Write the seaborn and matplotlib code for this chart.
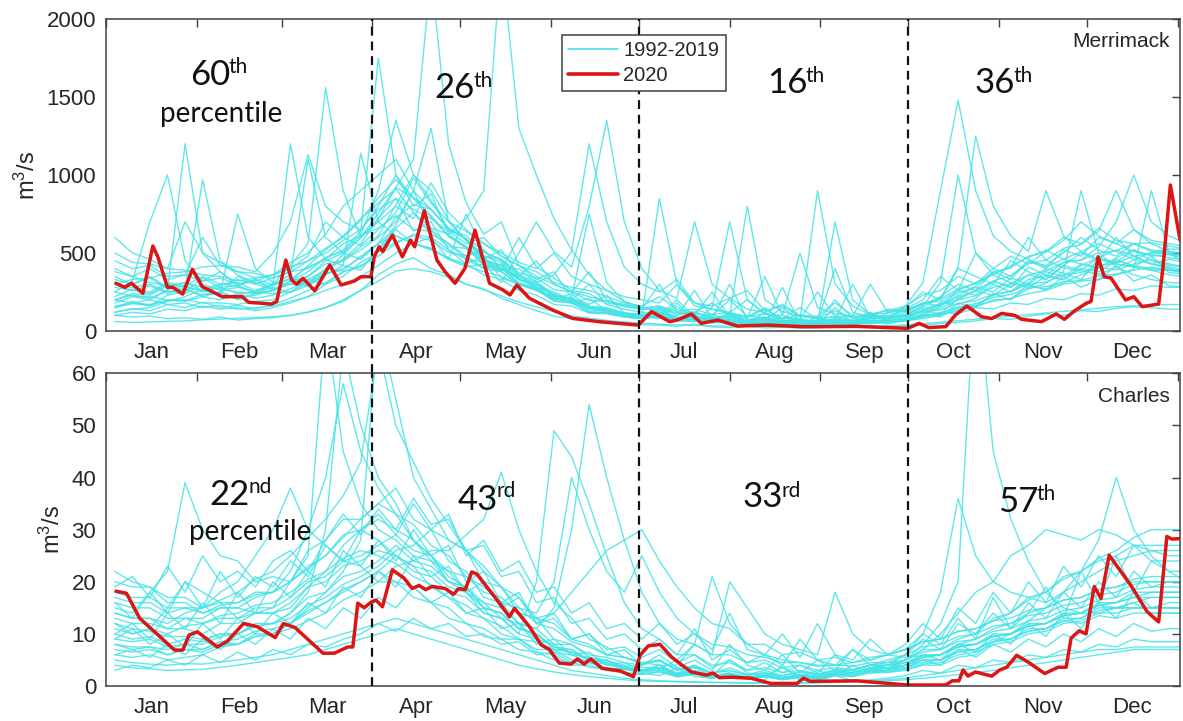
import numpy as np
import pandas as pd
import matplotlib
matplotlib.use("Agg")
import matplotlib.pyplot as plt
import seaborn as sns
from matplotlib.lines import Line2D

# ---------------- data ----------------
month_starts = [0, 31, 60, 91, 121, 152, 182, 213, 244, 274, 305, 335, 366]
month_mids = [15.5, 45.5, 75.5, 106, 136.5, 167, 197.5, 228.5, 259, 289.5, 320, 350.5]
month_labels = ["Jan", "Feb", "Mar", "Apr", "May", "Jun",
                "Jul", "Aug", "Sep", "Oct", "Nov", "Dec"]
season_bounds = [91, 182, 274]

# day-of-year sample grid for the 1992-2019 traces
cyan_days = list(range(3, 370, 6))

merrimack_hist = [
    [250,320,700,1000,450,320,380,290,330,300,420,560,1560,900,600,
     720,850,640,700,520,430,480,340,300,260,200,240,150,120,100,
     80,140,70,60,90,50,45,120,60,40,38,55,35,60,45,
     70,110,90,180,150,240,200,300,260,350,280,330,420,320,360,290,280],
    [180,220,200,260,1200,500,380,300,330,260,320,380,470,520,640,
     1750,1000,800,880,620,540,460,520,360,280,240,180,210,130,110,
     95,80,160,70,60,110,55,45,70,40,90,42,45,120,60,
     80,130,110,210,260,320,280,410,360,330,420,470,520,480,430,400,380],
    [100,90,95,80,85,75,90,70,80,85,100,120,150,190,260,
     360,430,470,400,360,300,270,210,170,130,95,80,65,55,45,
     40,38,30,45,26,22,30,20,24,18,20,28,22,30,28,
     34,38,48,55,65,80,75,95,110,100,130,125,145,155,150,140,140],
    [400,350,310,290,260,970,450,360,310,290,1200,600,460,420,390,
     520,680,900,1300,700,580,460,400,330,280,210,190,150,130,110,
     95,850,300,180,140,110,90,150,70,60,55,80,48,55,60,
     75,100,160,260,310,360,420,470,520,460,430,410,390,430,460,430,410],
    [200,240,230,290,310,280,270,250,240,260,320,420,520,610,720,
     820,910,760,660,620,720,900,2400,1300,1000,720,520,360,260,190,
     150,120,95,260,80,65,60,50,46,44,42,45,48,52,58,
     65,80,100,130,160,190,210,240,260,300,320,330,360,390,410,390,370],
    [300,260,290,240,270,220,250,200,240,280,250,330,390,460,560,
     720,920,1100,2300,1200,820,620,700,420,330,380,210,170,230,115,
     100,150,80,70,110,58,52,90,47,45,70,47,52,100,68,
     85,105,180,170,210,300,250,310,400,370,330,460,430,410,480,375,365],
    [150,190,160,230,250,340,280,290,240,260,300,290,370,390,480,
     560,660,760,620,560,460,440,390,400,310,360,510,1200,700,410,
     300,250,330,180,160,210,140,120,170,100,95,180,100,110,130,
     160,230,260,350,300,400,480,430,510,600,560,660,580,560,510,490,470],
    [350,300,340,270,290,250,280,240,250,300,360,1100,600,500,460,
     560,610,560,600,460,410,430,310,500,700,510,410,800,1350,700,
     400,260,210,700,300,210,260,130,160,95,85,130,85,95,140,
     125,180,190,260,230,320,280,360,330,420,390,470,440,520,480,490,470],
    [120,145,130,170,150,185,150,165,140,170,210,260,310,380,410,
     510,650,560,530,460,430,360,330,260,230,170,160,115,110,90,
     80,95,68,62,150,700,200,110,85,75,900,300,160,105,85,
     105,160,310,1000,500,360,310,290,270,310,360,410,460,410,390,360,350],
    [220,270,250,310,290,350,300,310,260,300,330,410,460,560,610,
     660,740,650,640,540,530,450,400,310,270,195,180,125,120,90,
     80,90,62,75,52,60,45,55,41,50,38,45,43,55,75,
     160,310,900,1480,900,610,510,460,410,460,510,560,510,460,430,410,390],
    [450,400,420,350,360,320,340,300,320,360,440,500,620,800,900,
     1000,1100,900,780,650,590,480,460,350,310,220,210,150,140,100,
     95,110,75,90,65,75,54,70,48,60,45,65,54,80,85,
     105,155,210,410,1250,800,610,510,900,610,510,460,430,410,390,390,390],
    [300,280,300,250,270,230,250,210,230,260,320,350,430,450,540,
     610,810,1000,900,710,580,450,420,300,270,190,180,120,115,90,
     80,95,64,80,54,70,48,60,43,55,40,52,43,60,54,
     64,90,105,150,165,230,255,330,355,440,455,540,700,1000,700,610,560],
    [200,180,200,170,180,150,165,140,150,160,190,220,300,350,440,
     505,570,610,580,505,480,405,380,305,280,205,190,135,130,98,
     88,100,72,85,62,75,54,66,50,60,47,58,50,66,60,
     72,95,105,140,155,200,205,270,305,380,900,500,410,360,330,310,310],
    [500,440,430,400,700,500,440,380,370,340,380,400,470,510,620,
     900,1350,1000,840,650,590,480,440,340,300,230,210,160,150,115,
     105,120,85,100,74,90,64,80,58,75,53,70,58,80,74,
     94,135,165,220,255,320,355,430,455,530,555,640,900,650,560,510,490],
    [150,175,165,195,195,235,245,750,400,310,300,300,370,400,470,
     560,730,810,780,660,590,460,420,330,300,220,200,145,135,105,
     95,110,77,95,64,80,56,70,51,65,48,62,53,70,65,
     78,100,115,155,175,215,235,275,285,315,325,355,365,395,900,500,430],
    [60,55,58,62,65,72,76,82,86,92,100,122,150,200,260,
     320,385,400,380,345,300,265,225,185,155,125,98,82,68,58,
     50,44,40,36,33,31,29,28,27,26,26,27,29,31,34,
     39,46,56,66,76,86,96,106,116,126,136,146,156,161,166,170,170],
    [300,330,340,370,380,410,420,410,380,500,700,1130,800,700,650,
     800,1000,850,740,610,540,430,390,600,410,340,260,240,175,170,
     135,150,105,120,85,100,73,90,63,80,57,75,63,90,82,
     105,145,175,245,285,380,405,480,505,580,700,610,560,510,490,470,460],
    [250,225,220,200,200,180,180,170,190,200,250,290,360,420,1140,
     700,610,560,530,460,750,510,450,360,320,230,210,750,310,190,
     145,160,105,120,85,100,800,200,125,95,78,90,63,85,78,
     95,125,145,200,225,280,305,360,385,440,455,500,515,560,565,545,525],
    [600,500,460,400,390,360,350,320,340,360,410,450,530,600,710,
     855,970,855,780,655,610,505,460,375,340,265,250,195,190,155,
     145,160,125,140,105,120,93,110,83,100,78,95,88,110,115,
     135,175,205,270,305,370,405,600,455,405,385,365,405,455,505,525,525],
    [120,140,150,190,220,270,300,290,250,240,250,310,380,490,600,
     755,920,855,730,605,530,425,380,295,270,205,195,150,145,115,
     105,120,86,100,72,90,62,80,58,75,54,700,200,105,85,
     95,120,135,175,195,235,255,300,315,360,375,420,435,480,495,505,505],
    [200,230,210,260,240,300,260,280,250,290,340,310,400,450,520,
     600,700,900,650,560,480,520,400,350,450,300,250,380,200,160,
     140,300,120,100,250,90,80,350,100,70,60,200,80,60,120,
     150,250,200,400,350,300,450,380,330,420,500,450,600,480,430,460,440],
    [160,180,170,200,190,220,200,240,210,230,270,330,300,380,420,
     480,560,620,600,520,460,400,430,330,290,250,200,300,170,140,
     120,100,200,90,80,300,75,70,150,65,60,400,120,90,100,
     130,180,160,230,280,250,340,300,380,350,430,400,470,520,450,420,410],
    [330,300,350,280,310,260,290,330,300,340,380,450,500,580,650,
     780,850,780,720,640,560,600,480,420,380,310,280,260,220,180,
     160,220,140,120,180,100,90,140,80,75,250,90,70,110,90,
     120,170,220,300,260,380,330,450,400,520,480,600,560,650,580,560,540],
    [100,120,110,140,130,160,140,150,130,150,180,220,260,300,350,
     420,500,560,520,470,420,380,350,300,260,220,180,150,130,110,
     95,85,180,70,60,120,55,50,280,48,45,150,50,45,60,
     70,90,120,110,150,140,180,170,210,200,240,230,270,260,290,280,280],
    [380,350,400,330,360,600,420,380,340,360,400,480,700,600,550,
     650,760,980,820,700,640,560,500,440,400,500,350,300,260,220,
     200,180,300,160,140,120,200,110,100,500,150,110,95,300,120,
     140,200,350,260,500,400,350,450,420,500,600,520,480,560,520,500,480],
    [280,260,240,300,280,260,240,350,300,270,300,350,450,500,600,
     700,800,720,950,760,650,560,480,420,350,300,250,220,190,170,
     150,130,120,110,100,200,95,85,80,150,75,70,300,90,80,
     100,130,170,200,260,230,300,280,350,330,400,380,450,420,400,390,380],
]

charles_hist = [
    [12,10,11,15,20,18,16,13,14,15,20,25,70,45,35,
     30,28,25,24,20,19,15,14,11,10,7,7,5,4.5,3.5,
     3,4,2,2.5,1.6,2,1.4,1.8,1.2,1.6,1.3,2,2,3,3,
     3.5,5,5,7,7,9,9,11,11,13,13,15,15,16,14,14,14],
    [8,7,7.5,6,7,6.5,8,8,10,10,12,15,18,22,28,
     70,55,40,34,28,26,20,19,14,13,9,8,5.5,5,3.5,
     3,3.5,2.2,2.8,1.8,2.4,1.5,2,1.3,1.8,1.4,2.2,2,3,3,
     4,6,6,8,8,10,10,12,12,14,14,16,16,18,18,18,18],
    [5,4.5,4.2,4,4.3,4.2,4.6,5,5.5,6,7,8,9,10,11,
     12,13,12,11,10,9,8,7,6,5,4,3,2.5,2,1.5,
     1.2,1,0.9,0.8,0.7,0.7,0.6,0.6,0.6,0.6,0.6,0.7,0.8,0.9,1,
     1.2,1.5,1.8,2.2,2.6,3,3.5,4,4.5,5,5.5,6,6.5,7,7,7,7],
    [15,14,18,22,39,30,25,24,20,21,20,26,28,32,32,
     35,38,32,30,24,22,17,16,12,11,8,8,6,5.5,4.5,
     4,5,3,4,2.5,3.5,2.2,3,2,2.8,2.2,3,3,4,4,
     5,7,7,9,10,13,14,17,18,21,22,24,25,27,27,27,27],
    [10,9,9.5,8,9,8.5,10,10,12,12,14,17,18,21,22,
     24,27,24,23,20,19,16,15,12,11,15,30,54,40,28,
     18,12,9,8,6,6,4.5,5,3.5,4,3,3.5,3.2,4,4,
     4.5,5.5,6,7.5,8,9.5,10,11.5,12,13.5,14,15.5,16,17,18,18,18],
    [7,6.5,7,6,7,7,8.5,9,10.5,11,12,14.5,16,18.5,20,
     22,25,22,21,18,17,14,13,10,20,49,44,35,25,16,
     11,9,6,6,4,4.5,3,3.5,2.6,3,2.3,3,2.6,3.5,3.5,
     4,5,5,6.5,7,8.5,9,10.5,11,12.5,13,14.5,15,15,15,15,15],
    [14,13,13,11,11,10,12,12,14,14,16,19,20,23,24,
     26,25,23,22,19,18,15,14,11,10,7.5,7,5,5,3.5,
     3,3.5,2.3,2.8,1.8,2.3,1.5,2,1.3,1.8,1.4,2.2,2,3,3.5,
     5,8,12,20,80,45,32,24,18,15,14,14,15,16,17,17,17],
    [20,19,19,17,17,15,16,16,18,18,20,23,25,29,30,
     28,25,23,19,17,14,13,10,9,6.5,6,4,4,3,2.5,
     2.2,2.8,1.8,2.3,1.5,2,1.3,1.8,1.3,1.9,1.6,2.5,2.5,3.5,4,
     6,10,18,36,25,20,18,17,16,18,20,22,24,25,26,26,26],
    [9,8.5,9,7.5,8,7,8.5,8,9.5,10,12,14,16,18,20,
     22,20,19,16,15,12,11,9,9,7,7,5,4.5,3.5,3.2,
     2.6,3,2,2.5,1.6,2,1.4,1.8,1.3,1.7,1.4,2,1.8,2.5,2.6,
     3,4,4,5.5,6,8.5,10,12.5,15,18,22,28,40,30,25,22,20],
    [13,12,12,11,13,13,15,15,14,14,15,19,22,27,30,
     32,30,28,24,22,18,16,13,12,9,8,6,5.5,4,3.8,
     3,3.5,2.4,3,2,2.5,1.7,2.2,1.6,2.2,1.9,2.8,2.6,3.5,4,
     5,7,10,14,18,20,25,27,30,29,28,30,29,27,26,25,25],
    [6,5.5,6,5,5.5,6,7.5,8,9.5,10,11,12.5,14,16.5,18,
     20,23,24,26,26,29,32,41,30,22,16,13,9,7.5,5.5,
     4.5,5,3.2,3.8,2.5,3,2,2.5,1.7,2.2,1.6,2.3,2,2.8,2.7,
     3.2,4.2,4.5,6,6.5,8,8.5,10,10.5,12,12.5,14,14,15,15,15,15],
    [16,15,15,13,13,12,13,13,15,15,17,20,21,24,25,
     27,29,26,25,22,21,18,17,14,13,14,18,22,26,28,
     30,24,19,15,12,11,8,8,6,6.5,5,5.5,4.5,5.5,6,
     7,8.5,9,10.5,11,12.5,13,14.5,15,16.5,17,18.5,19,20.5,21,21,21],
    [11,10,11,10,11.5,12,13.5,14,15.5,16,18,20.5,22,24.5,26,
     25,23.5,21,19.5,17,15.5,13,11.5,9,8.5,7,6.5,5,4.8,4,
     3.6,3.3,5,8,6,20,15,10,8,7,6,18,10,7,6,
     5.5,5.8,6,7.5,8,9.5,10,11.5,12,13.5,14,15.5,16,17,17,17,17],
    [18,17,17,15,15,14,15.5,16,17.5,18,20,22.5,25,28.5,32,
     35,33,31,27,25,21,19,16,15,12,11,8.5,7.5,6,5.5,
     4.5,4,4,8,21,12,8,6,5,4.5,4,4,4.5,5,6,
     7,8.5,9,10.5,11,12.5,14,16.5,18,20.5,22,24.5,26,28.5,30,30,30],
    [22,20,19,16,16,14,15,15,17,18,22,30,40,58,45,
     38,33,28,25,21,19,15,14,11,10,7.5,6.5,5,4.5,3.5,
     3,3.5,2.3,2.8,1.8,2.3,1.6,2,1.5,2,1.8,2.4,2.4,3.2,3.3,
     4,5.5,6,7.5,8,9.5,10,11.5,12,13.5,14,15.5,15,15,15,15,15],
    [14,13,13,12,14,15,18,20,25,30,38,30,27,24,23,
     20,20,17,16,13,12,9.5,9,7,6.5,5,4.6,3.6,3.3,2.6,
     2.3,2.7,1.8,2.2,1.6,2,1.5,1.9,1.6,2,1.9,2.6,2.6,3.4,3.5,
     4,5.5,6,8,9,11,12,14,15,16.5,17,18.5,19,20,20,20,20],
    [8,7.5,7.5,7,8,8,9.5,10,11.5,12,14,18,30,65,50,
     40,35,28,25,20,18,14,13,10,9,6.5,6,4.5,4.2,3.2,
     2.8,3.2,2.1,2.6,1.7,2.1,1.5,1.9,1.4,1.9,1.6,2.2,2.1,2.9,3,
     3.5,4.5,5,6.5,7,8.5,9,10.5,11,12.5,12,13.5,13,14,14,14,14],
    [17,16,16,14,15,15,16.5,18,20.5,22,25,28.5,32,36.5,43,
     65,50,43,36,31,26,23,19,17,13,12,9,8,6,5.5,
     4.2,4.8,3.1,3.6,2.5,3,2.1,2.6,2,2.6,2.2,3.2,3,4,4.5,
     6,7.5,8,9.5,10,11.5,12,13.5,14,15.5,16,17.5,18,19.5,20,20,20],
    [4,3.5,3.3,3,3.1,3.2,3.6,4,4.5,5,5.5,6,7,8,9,
     10,11,10,9,8,7,6,5,4,3.3,2.7,2.2,1.8,1.5,1.2,
     1,0.9,0.8,0.7,0.7,0.6,0.6,0.6,0.6,0.6,0.7,0.8,0.9,1,1.2,
     1.5,2,2.5,3,3.5,4,4.5,5,5.5,6,6.5,7,7,7.5,7.5,7.5,7.5],
    [12,11,10.5,9.5,9.5,9,10,10,11.5,12,13,15.5,17,19.5,21,
     23,26,27,30,28,26,22,19,15,14,20,40,30,22,18,
     25,18,13,10,8,7.5,6,5.5,4.5,4.5,3.8,4,3.8,4.5,4.5,
     5,6.5,7,8.5,9,10.5,11,12.5,13,14.5,15,16.5,17,18.5,19,19,19],
    [10,12,9,14,11,16,12,18,14,20,17,22,19,26,23,
     28,24,30,25,27,20,22,16,18,12,14,9,10,6,7,
     4,6,3.5,5,3,8,4,3,6,2.5,5,3,7,4,5,
     6,9,7,12,10,14,11,16,13,18,15,20,17,22,19,20,20],
    [6,7,5.5,8,6,9,7,10,8,11,9,13,11,15,13,
     17,15,19,16,18,14,15,11,12,8,9,6,6.5,4,4.5,
     3,4,2.5,3.5,2,5,2.5,2,3.5,1.8,3,2,4,2.5,3,
     3.5,5,4,7,5.5,8,6.5,9,7.5,10,8.5,11,9.5,12,10.5,11,11],
    [19,21,17,23,18,25,20,22,19,24,26,22,28,33,29,
     34,30,36,31,32,26,27,21,22,16,17,12,13,9,10,
     7,9,6,11,5,7,4.5,6,4,9,5,4,7,5,6,
     8,12,9,15,12,18,14,20,16,23,19,25,21,27,24,24,24],
    [3,4,3.5,5,4,6,4.5,6.5,5,7,6,8,7.5,9,10,
     12,10.5,13,11,12,9.5,10,8,8.5,6,6.5,4.5,5,3,3.5,
     2.5,2,3.5,1.8,1.5,2.5,1.3,1.2,4,1.1,1,2,1,1.2,1.5,
     2,3,2.5,4,3.5,5,4.5,6,5.5,7,6.5,8,7.5,9,8.5,8.5,8.5],
    [16,13,18,14,20,15,22,17,21,19,24,21,27,24,30,
     33,29,35,30,33,25,28,22,24,18,19,14,16,11,12,
     9,12,8,10,7,14,7,6,10,5.5,12,6,5,9,6,
     7,10,8,13,9,17,11,14,19,13,22,16,25,18,24,22,22],
    [9,11,8,10,7.5,12,9,13,10,14,12,16,14,19,17,
     22,19,25,21,23,18,20,15,17,12,13,9,10,7,7.5,
     5.5,7,4.5,6,3.5,5,3,4.5,2.5,4,2.5,6,3,4,3.5,
     4.5,6,5,8,6.5,10,8,12,9.5,14,11,16,13,18,15,16,16],
]

red_m_days = [3.4, 6.4, 8.7, 12.6, 16, 17.7, 21, 22.8, 26.2, 29.5, 32.9, 39.7, 46.5,
              48.7, 56.6, 58.3, 61.4, 63.4, 65.1, 67.3, 71.3, 76.4, 80.3, 84.8, 87.1,
              90.5, 91.6, 93.3, 94.5, 97.8, 101.2, 104, 105.4, 108.7, 113, 115.8,
              119.2, 122.6, 126, 131, 135.6, 138, 140.3, 144.6, 152.5, 159.3, 168.3,
              175, 181.8, 186.3, 192.5, 195, 199.9, 203.3, 208.9, 215.7, 226, 238,
              245, 255.8, 273.8, 277.7, 281, 286.8, 290.1, 294, 299, 302.5, 305.9,
              310.4, 312.7, 319.5, 324.5, 327.3, 330.7, 334.7, 336.4, 338.8, 340.9,
              343.2, 348.2, 351, 353.9, 359.5, 361, 363.5, 366.8]
red_m_vals = [306, 280, 306, 242, 545, 476, 280, 280, 237, 395, 284, 220, 220,
              184, 173, 190, 455, 327, 300, 338, 258, 423, 295, 320, 348,
              348, 476, 540, 510, 615, 476, 583, 540, 771, 455, 380,
              306, 402, 647, 306, 263, 231, 295, 210, 135, 81, 60,
              49, 38, 124, 60, 70, 109, 49, 70, 32, 38, 28,
              28, 30, 17, 49, 22, 28, 103, 160, 92, 80, 113,
              100, 75, 60, 109, 75, 128, 177, 190, 476, 348,
              340, 199, 220, 156, 173, 412, 936, 583]

red_c_days = [3.4, 7, 11.5, 17.2, 23.4, 26.2, 28.4, 31.2, 38, 41.4, 47, 51.6, 57.8,
              60.6, 64.6, 74.1, 78, 82.6, 84.3, 86, 88.2, 90.5, 92.2, 94.4, 97.8,
              101.8, 104.6, 106.9, 109.1, 111.4, 115.9, 118.7, 120.4, 122.7, 124.9,
              126.6, 132.2, 137.8, 139.5, 144.6, 148.6, 151.4, 154.8, 158.8, 161,
              163.3, 165.5, 169.4, 175.6, 180.1, 182.4, 185.2, 189.2, 193.1, 196.5,
              199.9, 205, 207.3, 209.5, 213.5, 220.3, 227, 236, 238.2, 240.5, 256.3,
              273.8, 286.8, 289, 291.3, 292.7, 294.4, 296.9, 302.5, 305.3, 307.6,
              311, 314.9, 320.6, 325.1, 327.9, 329.6, 332.4, 334.7, 337.5, 339.8,
              342.6, 349.9, 355.5, 359.5, 362.3, 364, 366.8]
red_c_vals = [18.2, 17.8, 13, 10.1, 6.9, 6.9, 9.8, 10.4, 7.5, 8.6, 12, 11.4, 9.3,
              12, 11.2, 6.3, 6.3, 7.5, 7.5, 15.9, 15, 16.1, 16.5, 15.2, 22.3,
              20.7, 18.7, 19.3, 18.5, 19.1, 18.7, 17.6, 18.7, 18.5, 21.9,
              21.5, 17.5, 13.3, 14.9, 11.4, 7.9, 7.0, 4.4, 4.2, 5.2,
              4.2, 5.2, 3.4, 2.9, 1.8, 5.9, 7.7, 8.0, 5.6, 4.1,
              2.7, 2.1, 2.5, 1.6, 1.7, 1.5, 0.5, 0.5, 1.5, 0.9, 1.0,
              0.2, 0.2, 1.0, 1.0, 3.1, 1.9, 2.7, 1.9, 3.1, 3.6,
              5.9, 4.6, 2.4, 3.6, 3.6, 9.2, 10.6, 10.0, 19.1, 16.8,
              25.1, 19.4, 14.3, 12.3, 28.7, 28.2, 28.3]

panels = [
    dict(hist=merrimack_hist, rd=red_m_days, rv=red_m_vals, ylim=2000,
         yticks=[0, 500, 1000, 1500, 2000], name="Merrimack",
         pct=["60", "26", "16", "36"], sup=["th", "th", "th", "th"]),
    dict(hist=charles_hist, rd=red_c_days, rv=red_c_vals, ylim=60,
         yticks=[0, 10, 20, 30, 40, 50, 60], name="Charles",
         pct=["22", "43", "33", "57"], sup=["nd", "rd", "rd", "th"]),
]

# ---------------- style ----------------
sns.set_theme(style="white")
plt.rcParams["font.family"] = ["Liberation Sans", "DejaVu Sans"]
plt.rcParams["mathtext.fontset"] = "custom"
plt.rcParams["mathtext.rm"] = "Liberation Sans"
plt.rcParams["mathtext.it"] = "Liberation Sans:italic"
plt.rcParams["mathtext.default"] = "regular"

CYAN = "#45E3E6"
RED = "#DD1515"
EDGE = "#404040"
TXT = "#262626"

fig = plt.figure(figsize=(11.83, 7.21), dpi=100)
ax_top = fig.add_axes([0.0896, 0.5409, 0.9079, 0.4327])
ax_bot = fig.add_axes([0.0896, 0.0485, 0.9079, 0.4337])
axes = [ax_top, ax_bot]

# text placement (axes fraction)
num_pos = {
    0: [(0.1155, 0.788, 0.1140, 0.827), (0.3436, 0.747, 0.3420, 0.782),
        (0.6527, 0.763, 0.6510, 0.798), (0.8464, 0.763, 0.8450, 0.798)],
    1: [(0.1340, 0.579, 0.1325, 0.617), (0.3650, 0.563, 0.3638, 0.604),
        (0.6304, 0.572, 0.6292, 0.604), (0.8678, 0.556, 0.8665, 0.595)],
}
pctl_pos = {0: (0.1075, 0.670), 1: (0.1345, 0.467)}
name_pos = {0: 0.910, 1: 0.908}

for k, (ax, p) in enumerate(zip(axes, panels)):
    rows = []
    for j, series in enumerate(p["hist"]):
        for d, v in zip(cyan_days, series):
            rows.append((j, d, v))
    df = pd.DataFrame(rows, columns=["line", "day", "flow"])
    sns.lineplot(data=df, x="day", y="flow", units="line", estimator=None,
                 color=CYAN, lw=1.0, alpha=0.85, ax=ax, legend=False, sort=False,
                 zorder=1)
    sns.lineplot(x=p["rd"], y=p["rv"], color=RED, lw=2.5, ax=ax, estimator=None,
                 sort=False, zorder=3)

    for b in season_bounds:
        ax.axvline(b, ymin=(-0.135 if k == 0 else 0), ymax=1, color="#111111",
                   ls=(0, (4, 2.6)), lw=1.6, zorder=4, clip_on=False)

    ax.set_xlim(3.4, 366.8)
    ax.set_ylim(0, p["ylim"])
    ax.set_xticks(month_starts)
    ax.set_xticklabels([""] * len(month_starts))
    ax.set_xticks(month_mids, minor=True)
    ax.set_xticklabels(month_labels, minor=True)
    ax.set_yticks(p["yticks"])
    ax.set_yticklabels([str(t) for t in p["yticks"]])
    ax.tick_params(axis="both", which="major", direction="in", length=6, width=1.0,
                   color=EDGE, top=True, right=True, labelsize=16, labelcolor=TXT)
    ax.tick_params(axis="x", which="minor", length=0, pad=8, labelsize=16,
                   labelcolor=TXT, bottom=True)
    ax.tick_params(axis="y", which="major", pad=7)
    for s in ax.spines.values():
        s.set_color(EDGE)
        s.set_linewidth(1.1)
        s.set_visible(True)
    ax.set_xlabel("")
    ax.set_ylabel("m$^3$/s", fontsize=17, color=TXT, labelpad=5)
    ax.grid(False)

    # percentile annotations
    for (xr, yb, xs, ys), num, sup in zip(num_pos[k], p["pct"], p["sup"]):
        ax.text(xr, yb, num, transform=ax.transAxes, ha="right", va="baseline",
                fontsize=25, family=["Lato", "DejaVu Sans"], color="#111111", zorder=6)
        ax.text(xs, ys, sup, transform=ax.transAxes, ha="left", va="baseline",
                fontsize=15, family=["Lato", "DejaVu Sans"], color="#111111", zorder=6)
    px, py = pctl_pos[k]
    ax.text(px, py, "percentile", transform=ax.transAxes, ha="center", va="baseline",
            fontsize=20, family=["Lato", "DejaVu Sans"], color="#111111", zorder=6)
    ax.text(0.9907, name_pos[k], p["name"], transform=ax.transAxes, ha="right",
            va="baseline", fontsize=15, color=TXT, zorder=6)

handles = [Line2D([], [], color=CYAN, lw=1.2), Line2D([], [], color=RED, lw=2.6)]
leg = ax_top.legend(handles, ["1992-2019", "2020"], loc="upper left",
                    bbox_to_anchor=(0.4246, 0.9487), borderaxespad=0,
                    frameon=True, fancybox=False, framealpha=1, edgecolor=EDGE,
                    fontsize=14.5, handlelength=2.5, handletextpad=0.25,
                    labelspacing=0.3, borderpad=0.3)
leg.get_frame().set_linewidth(1.1)
leg.set_zorder(7)
for t in leg.get_texts():
    t.set_color(TXT)

fig.savefig("out.png", dpi=100)
